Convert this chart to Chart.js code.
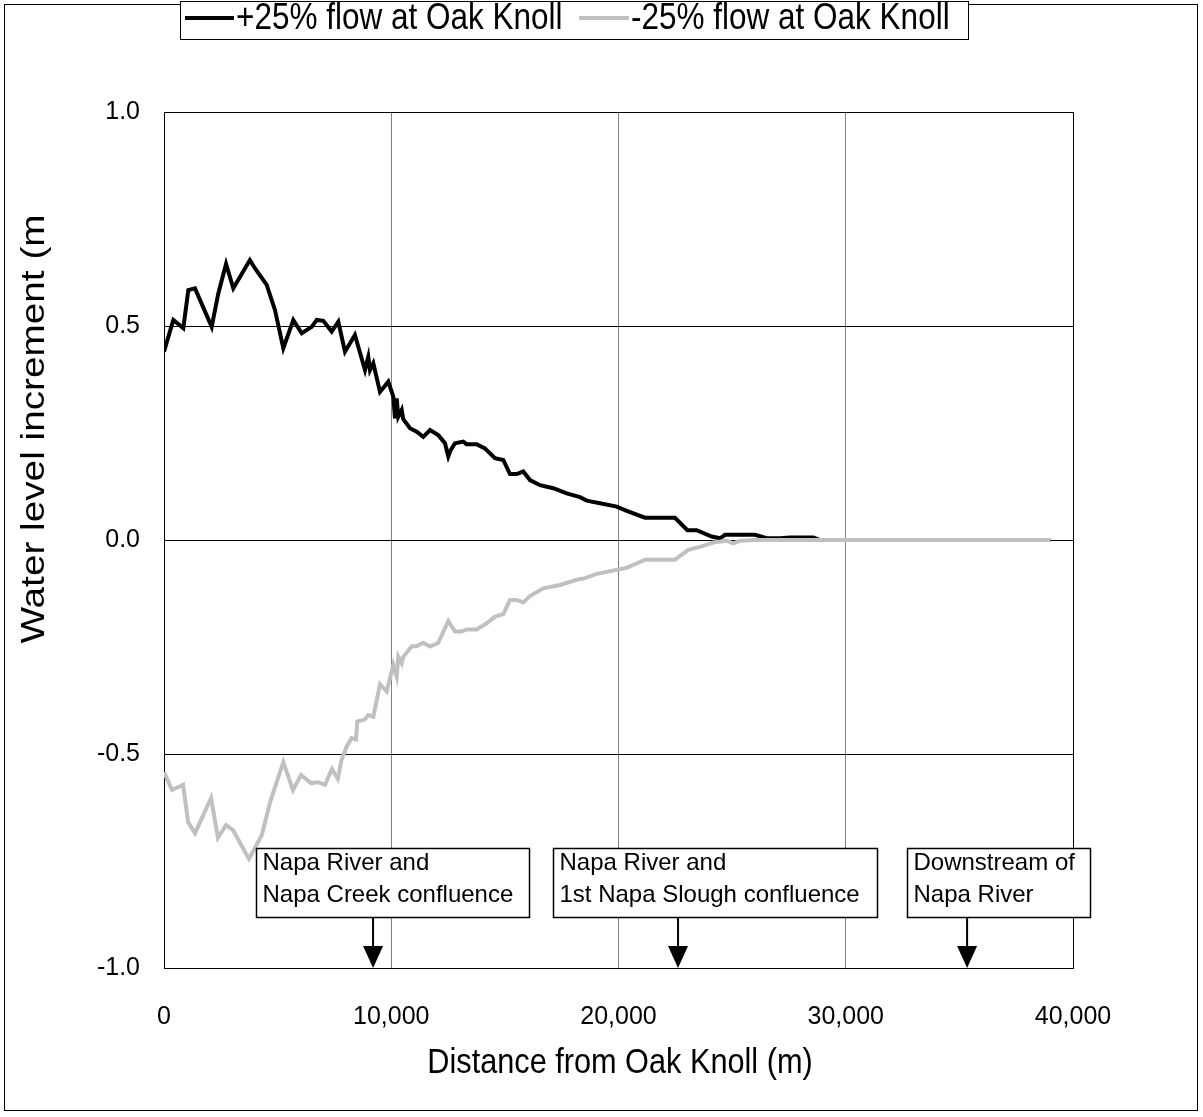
<!DOCTYPE html>
<html>
<head>
<meta charset="utf-8">
<script src="https://cdn.jsdelivr.net/npm/chart.js@4.4.0/dist/chart.umd.min.js"></script>
<style>
  html, body { margin: 0; padding: 0; background: #fff; }
</style>
</head>
<body>
<canvas id="waterChart" width="1203" height="1117"></canvas>
<script>
// +25% flow run (distance in m, increment in m)
const plusDist = [0, 410, 850, 1070, 1364, 2098, 2390, 2730, 3050, 3780, 4000, 4520, 4885, 5250, 5690, 6060, 6500, 6720, 7010, 7380, 7670, 7965, 8400, 8845, 8990, 9065, 9210, 9505, 9870, 10090, 10165, 10240, 10310, 10460, 10530, 10825, 11120, 11410, 11705, 12070, 12365, 12510, 12615, 12805, 13170, 13315, 13755, 14120, 14565, 14930, 15225, 15520, 15810, 16105, 16545, 17130, 17720, 18305, 18600, 19185, 19920, 20360, 21165, 22485, 23030, 23440, 24100, 24470, 24690, 26005, 26520, 27110, 27545, 28570, 28870, 39000];
const plusVal = [0.44, 0.514, 0.495, 0.584, 0.588, 0.498, 0.576, 0.645, 0.588, 0.654, 0.635, 0.596, 0.537, 0.448, 0.514, 0.483, 0.498, 0.514, 0.512, 0.487, 0.51, 0.44, 0.479, 0.397, 0.428, 0.397, 0.413, 0.346, 0.37, 0.335, 0.284, 0.331, 0.288, 0.304, 0.282, 0.261, 0.253, 0.241, 0.257, 0.245, 0.226, 0.195, 0.21, 0.226, 0.23, 0.224, 0.224, 0.214, 0.191, 0.187, 0.154, 0.154, 0.16, 0.14, 0.128, 0.121, 0.109, 0.1, 0.092, 0.086, 0.078, 0.068, 0.052, 0.052, 0.023, 0.023, 0.008, 0.004, 0.012, 0.012, 0.004, 0.004, 0.006, 0.006, 0, 0];

// -25% flow run
const minusDist = [0, 350, 840, 1060, 1365, 2070, 2375, 2730, 3040, 3740, 4300, 4700, 5250, 5675, 6030, 6470, 6780, 7085, 7390, 7650, 7810, 8035, 8255, 8450, 8505, 8845, 8990, 9210, 9505, 9800, 10090, 10240, 10310, 10460, 10530, 10900, 11120, 11410, 11705, 12070, 12510, 12805, 13095, 13315, 13755, 14195, 14565, 14930, 15225, 15520, 15810, 16105, 16690, 17425, 18160, 18530, 19040, 20070, 20360, 21165, 22485, 23070, 23585, 24170, 24760, 25050, 25340, 26000, 39000];
const minusVal = [-0.542, -0.584, -0.572, -0.659, -0.685, -0.603, -0.696, -0.666, -0.678, -0.745, -0.69, -0.607, -0.519, -0.584, -0.549, -0.568, -0.566, -0.572, -0.535, -0.558, -0.514, -0.483, -0.463, -0.466, -0.424, -0.419, -0.409, -0.413, -0.337, -0.354, -0.292, -0.319, -0.273, -0.288, -0.273, -0.248, -0.248, -0.24, -0.249, -0.24, -0.189, -0.214, -0.214, -0.209, -0.209, -0.195, -0.179, -0.173, -0.14, -0.14, -0.146, -0.131, -0.113, -0.105, -0.093, -0.089, -0.079, -0.068, -0.065, -0.046, -0.046, -0.023, -0.016, -0.006, -0.002, -0.008, -0.002, 0, 0];

const seriesNames = ['+25% flow at Oak Knoll', '-25% flow at Oak Knoll'];
const xTickLabels = ['0', '10,000', '20,000', '30,000', '40,000'];
const yTickLabels = ['-1.0', '-0.5', '0.0', '0.5', '1.0'];

// call-out boxes under the curves
const noteLines = [
    ['Napa River and', 'Napa Creek confluence'],
    ['Napa River and', '1st Napa Slough confluence'],
    ['Downstream of', 'Napa River']
];
const noteArrowX = [9200, 22620, 35340];
const noteLeft = [4050, 17120, 32700];
const noteRight = [16062, 31375, 40748];

const FONT = "'Liberation Sans', Arial, sans-serif";
const STRETCH = 1.15; // the original picture is a bit taller than it is wide

function toPoints(xs, ys) {
    return xs.map((x, i) => ({ x: x, y: ys[i] }));
}

function stretchedText(ctx, text, x, y, size, align) {
    ctx.save();
    ctx.translate(x, y);
    ctx.scale(1, STRETCH);
    ctx.font = size + 'px ' + FONT;
    ctx.textAlign = align;
    ctx.textBaseline = 'middle';
    ctx.fillStyle = '#000';
    ctx.fillText(text, 0, 0);
    ctx.restore();
}

const decorPlugin = {
    id: 'decor',
    afterDatasetsDraw(chart) {
        const ctx = chart.ctx;
        const xs = chart.scales.x;
        const ys = chart.scales.y;

        // call-out boxes with arrows
        const boxTop = ys.getPixelForValue(-0.72);
        const boxBottom = ys.getPixelForValue(-0.881);
        const tipY = ys.getPixelForValue(-1);
        noteLines.forEach((lines, i) => {
            const l = Math.round(xs.getPixelForValue(noteLeft[i])) + 0.5;
            const r = Math.round(xs.getPixelForValue(noteRight[i])) + 0.5;
            const t = Math.round(boxTop) + 0.5;
            const b = Math.round(boxBottom) + 0.5;
            ctx.save();
            ctx.fillStyle = '#fff';
            ctx.fillRect(l, t, r - l, b - t);
            ctx.strokeStyle = '#000';
            ctx.lineWidth = 1.5;
            ctx.strokeRect(l, t, r - l, b - t);
            ctx.font = '24px ' + FONT;
            ctx.fillStyle = '#000';
            ctx.textAlign = 'left';
            ctx.textBaseline = 'middle';
            ctx.fillText(lines[0], l + 6, t + 15);
            ctx.fillText(lines[1], l + 6, t + 47);

            const ax = xs.getPixelForValue(noteArrowX[i]);
            ctx.lineWidth = 2;
            ctx.beginPath();
            ctx.moveTo(ax, b);
            ctx.lineTo(ax, tipY - 20);
            ctx.stroke();
            ctx.beginPath();
            ctx.moveTo(ax - 10, tipY - 22);
            ctx.lineTo(ax + 10, tipY - 22);
            ctx.lineTo(ax, tipY);
            ctx.closePath();
            ctx.fill();
            ctx.restore();
        });
    },
    afterDraw(chart) {
        const ctx = chart.ctx;
        ctx.save();
        ctx.strokeStyle = '#000';
        ctx.lineWidth = 1;
        ctx.strokeRect(4.5, 4.5, 1193, 1106);

        // legend
        ctx.fillStyle = '#fff';
        ctx.fillRect(180.5, 1.5, 788, 38);
        ctx.strokeRect(180.5, 1.5, 788, 38);
        ctx.lineWidth = 4;
        ctx.strokeStyle = '#000';
        ctx.beginPath();
        ctx.moveTo(185, 18);
        ctx.lineTo(234, 18);
        ctx.stroke();
        ctx.strokeStyle = '#c0c0c0';
        ctx.beginPath();
        ctx.moveTo(579, 18);
        ctx.lineTo(629, 18);
        ctx.stroke();
        ctx.restore();
        stretchedText(ctx, seriesNames[0], 236, 19, 31.5, 'left');
        stretchedText(ctx, seriesNames[1], 631, 19, 31.5, 'left');

        // axis titles
        stretchedText(ctx, 'Distance from Oak Knoll (m)', 620, 1063, 30.7, 'center');
        ctx.save();
        ctx.translate(35, 429);
        ctx.rotate(-Math.PI / 2);
        ctx.scale(STRETCH, 1);
        ctx.font = '33.7px ' + FONT;
        ctx.fillStyle = '#000';
        ctx.textAlign = 'center';
        ctx.textBaseline = 'middle';
        ctx.fillText('Water level increment (m', 0, 0);
        ctx.restore();
    }
};

const ctx = document.getElementById('waterChart').getContext('2d');
const chart = new Chart(ctx, {
    type: 'scatter',
    data: {
        datasets: [{
            label: seriesNames[0],
            data: toPoints(plusDist, plusVal),
            showLine: true,
            borderColor: '#000',
            borderWidth: 4,
            pointRadius: 0,
            tension: 0,
            order: 2
        }, {
            label: seriesNames[1],
            data: toPoints(minusDist, minusVal),
            showLine: true,
            borderColor: '#c0c0c0',
            borderWidth: 4,
            pointRadius: 0,
            tension: 0,
            order: 1
        }]
    },
    options: {
        responsive: false,
        animation: false,
        layout: { padding: { top: 112, right: 130, bottom: 0, left: 0 } },
        plugins: {
            legend: { display: false },
            tooltip: { enabled: false }
        },
        scales: {
            x: {
                type: 'linear',
                min: 0,
                max: 40000,
                afterFit: function(scale) { scale.height = 149; },
                border: { color: '#000', width: 1 },
                grid: {
                    drawTicks: false,
                    color: function(c) {
                        return (c.tick && (c.tick.value === 0 || c.tick.value === 40000)) ? '#000' : '#808080';
                    },
                    lineWidth: 1
                },
                ticks: {
                    stepSize: 10000,
                    padding: 34,
                    color: '#000',
                    font: { family: FONT, size: 25 },
                    callback: function(value, index) { return xTickLabels[index]; }
                }
            },
            y: {
                min: -1,
                max: 1,
                afterFit: function(scale) { scale.width = 164; },
                border: { color: '#000', width: 1 },
                grid: {
                    drawTicks: false,
                    color: '#000',
                    lineWidth: 1
                },
                ticks: {
                    stepSize: 0.5,
                    padding: 24,
                    color: '#000',
                    font: { family: FONT, size: 25 },
                    callback: function(value, index) { return yTickLabels[index]; }
                }
            }
        }
    },
    plugins: [decorPlugin]
});
</script>
</body>
</html>
